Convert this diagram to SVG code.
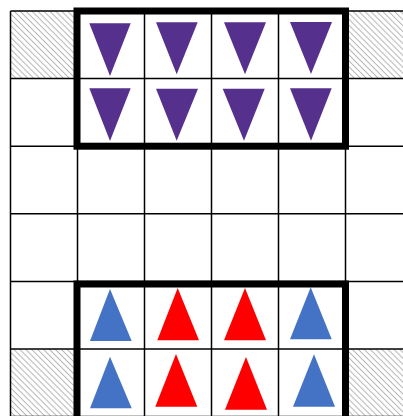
<svg xmlns="http://www.w3.org/2000/svg" width="403" height="416" viewBox="0 0 403 416">
  <defs>
    <pattern id="hatch" width="4.2" height="4.2" patternUnits="userSpaceOnUse" patternTransform="rotate(45)">
      <line x1="0" y1="2.1" x2="4.2" y2="2.1" stroke="#b4b4b4" stroke-width="1"/>
    </pattern>
    <style>
      .grid line { stroke: #000; stroke-width: 1.5; }
      .hatch { fill: url(#hatch); stroke: none; }
      .frame { fill: none; stroke: #000; stroke-width: 7; }
      .down { fill: #55308d; }
      .blue { fill: #4472c4; }
      .red { fill: #ff0000; }
    </style>
  </defs>
  <rect x="0" y="0" width="403" height="416" fill="#fff"/>
  <g id="hatched-cells">
    <rect class="hatch" x="10.5" y="11" width="67" height="67.6"/>
    <rect class="hatch" x="345.5" y="11" width="67" height="67.6"/>
    <rect class="hatch" x="10.5" y="349" width="67" height="67.6"/>
    <rect class="hatch" x="345.5" y="349" width="67" height="67.6"/>
  </g>
  <g id="grid" class="grid">
    <line x1="10.5" y1="11" x2="10.5" y2="417"/>
    <line x1="77.5" y1="11" x2="77.5" y2="417"/>
    <line x1="144.5" y1="11" x2="144.5" y2="417"/>
    <line x1="211.5" y1="11" x2="211.5" y2="417"/>
    <line x1="278.5" y1="11" x2="278.5" y2="417"/>
    <line x1="345.5" y1="11" x2="345.5" y2="417"/>
    <line x1="10.5" y1="11" x2="403" y2="11"/>
    <line x1="10.5" y1="78.6" x2="403" y2="78.6"/>
    <line x1="10.5" y1="146.2" x2="403" y2="146.2"/>
    <line x1="10.5" y1="213.8" x2="403" y2="213.8"/>
    <line x1="10.5" y1="281.4" x2="403" y2="281.4"/>
    <line x1="10.5" y1="349" x2="403" y2="349"/>
    <line x1="10.5" y1="416.6" x2="403" y2="416.6"/>
  </g>
  <g id="tri-r0c1"><polygon class="down" points="89.3,23.3 130.7,23.3 110,76"/></g>
  <g id="tri-r0c2"><polygon class="down" points="156,22.3 197.7,22.3 176.7,74.3"/></g>
  <g id="tri-r0c3"><polygon class="down" points="224,22.3 266,22.3 245,74.3"/></g>
  <g id="tri-r0c4"><polygon class="down" points="290,22 332,22 311,74"/></g>
  <g id="tri-r1c1"><polygon class="down" points="89.3,88.3 130.7,88.3 110,141"/></g>
  <g id="tri-r1c2"><polygon class="down" points="156,88.7 198,88.7 176.7,140.7"/></g>
  <g id="tri-r1c3"><polygon class="down" points="222.7,88.7 264.7,88.7 244,140.7"/></g>
  <g id="tri-r1c4"><polygon class="down" points="290,88.3 331.7,88.3 311,140.7"/></g>
  <g id="tri-r4c1"><polygon class="blue" points="110,289 131.7,341 90,341"/></g>
  <g id="tri-r4c2"><polygon class="red" points="177.7,288 199,340.3 157.3,340.3"/></g>
  <g id="tri-r4c3"><polygon class="red" points="245,288 266,340.3 224,340.3"/></g>
  <g id="tri-r4c4"><polygon class="blue" points="310.7,287.3 331.7,339.3 290,339.3"/></g>
  <g id="tri-r5c1"><polygon class="blue" points="110,356.7 131.7,408.3 90,408.3"/></g>
  <g id="tri-r5c2"><polygon class="red" points="176,354 197.3,406.7 155.3,406.7"/></g>
  <g id="tri-r5c3"><polygon class="red" points="246,357 267,409.7 225,409.7"/></g>
  <g id="tri-r5c4"><polygon class="blue" points="314,354.3 335,406.7 293,406.7"/></g>
  <g id="frames">
    <rect class="frame" x="77" y="11" width="268.5" height="135.2"/>
    <rect class="frame" x="77" y="284" width="268.5" height="138"/>
  </g>
</svg>
